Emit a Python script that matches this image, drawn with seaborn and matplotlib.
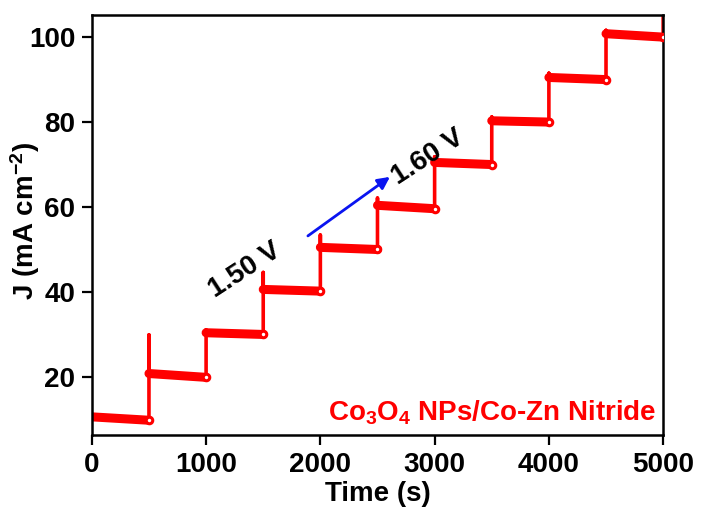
import numpy as np
import pandas as pd
import matplotlib
matplotlib.use("Agg")
import matplotlib.pyplot as plt
import seaborn as sns

# step times (s) and current density levels (mA cm-2)
step_start = [0, 500, 1000, 1500, 2000, 2500, 3000, 3500, 4000, 4500]
step_end = [500, 1000, 1500, 2000, 2500, 3000, 3500, 4000, 4500, 5000]
j_first = [10.6, 20.8, 30.4, 40.6, 50.5, 60.4, 70.5, 80.3, 90.5, 100.8]
j_last = [9.8, 19.9, 30.0, 40.2, 50.0, 59.6, 70.0, 80.0, 90.0, 100.0]
# overshoot peak at the end of each step (when the potential is raised)
j_spike = [29.9, 31.1, 44.6, 53.4, 62.1, 71.8, 81.2, 91.5, 101.6, 108.0]

label_sample = "Co$_3$O$_4$ NPs/Co-Zn Nitride"

sns.set_style("ticks")
plt.rcParams["font.family"] = ["Liberation Sans", "DejaVu Sans"]
plt.rcParams["font.weight"] = "bold"
plt.rcParams["mathtext.default"] = "regular"
plt.rcParams["text.color"] = "black"
plt.rcParams["axes.labelcolor"] = "black"
plt.rcParams["xtick.color"] = "black"
plt.rcParams["ytick.color"] = "black"

# build the continuous trace: plateau, spike up, drop to next level
rows = []
for i in range(len(step_start)):
    rows.append((step_start[i], j_first[i]))
    rows.append((step_end[i], j_last[i]))
    rows.append((step_end[i], j_spike[i]))
    if i + 1 < len(step_start):
        rows.append((step_start[i + 1], j_first[i + 1]))
trace = pd.DataFrame(rows, columns=["t", "J"])

plat = pd.DataFrame({
    "t": step_start + step_end,
    "J": j_first + j_last,
    "seg": list(range(len(step_start))) * 2,
})

fig = plt.figure(figsize=(7.01, 5.18), dpi=100)
ax = fig.add_axes([0.131, 0.160, 0.815, 0.811])

red = "#ff0000"
sns.lineplot(data=trace, x="t", y="J", sort=False, estimator=None,
             color=red, lw=2.6, ax=ax)
sns.lineplot(data=plat, x="t", y="J", units="seg", sort=False, estimator=None,
             color=red, lw=6.5, ax=ax, solid_capstyle="round")
sns.scatterplot(x=step_end, y=j_last, marker="o", s=22, color="white",
                edgecolor=red, linewidth=2.2, ax=ax, zorder=5)

fs = 20
ax.set_xlim(0, 5000)
ax.set_ylim(6.3, 105.2)
ax.set_xticks(range(0, 5001, 1000))
ax.set_yticks(range(20, 101, 20))
ax.tick_params(direction="out", length=7, width=1.6, labelsize=fs, pad=5)
for s in ax.spines.values():
    s.set_visible(True)
    s.set_linewidth(1.8)
    s.set_color("black")
for lab in ax.get_xticklabels() + ax.get_yticklabels():
    lab.set_fontweight("bold")

ax.set_xlabel("Time (s)", fontsize=fs, fontweight="bold", labelpad=2)
ax.set_ylabel("J (mA cm$^{-2}$)", fontsize=fs, fontweight="bold")
ax.yaxis.set_label_coords(-0.088, 0.51)

ax.text(1340, 45.2, "1.50 V", rotation=33, fontsize=fs, fontweight="bold",
        ha="center", va="center")
ax.text(2942, 71.8, "1.60 V", rotation=33, fontsize=fs, fontweight="bold",
        ha="center", va="center")
ax.annotate("", xy=(2609, 67.1), xytext=(1891, 53.2),
            arrowprops=dict(arrowstyle="-|>", color="#0a14f0", lw=2,
                            mutation_scale=18, shrinkA=0, shrinkB=0))
ax.text(4940, 11.6, label_sample, color=red, fontsize=fs, fontweight="bold",
        ha="right", va="center")

fig.savefig("out.png", dpi=100)
